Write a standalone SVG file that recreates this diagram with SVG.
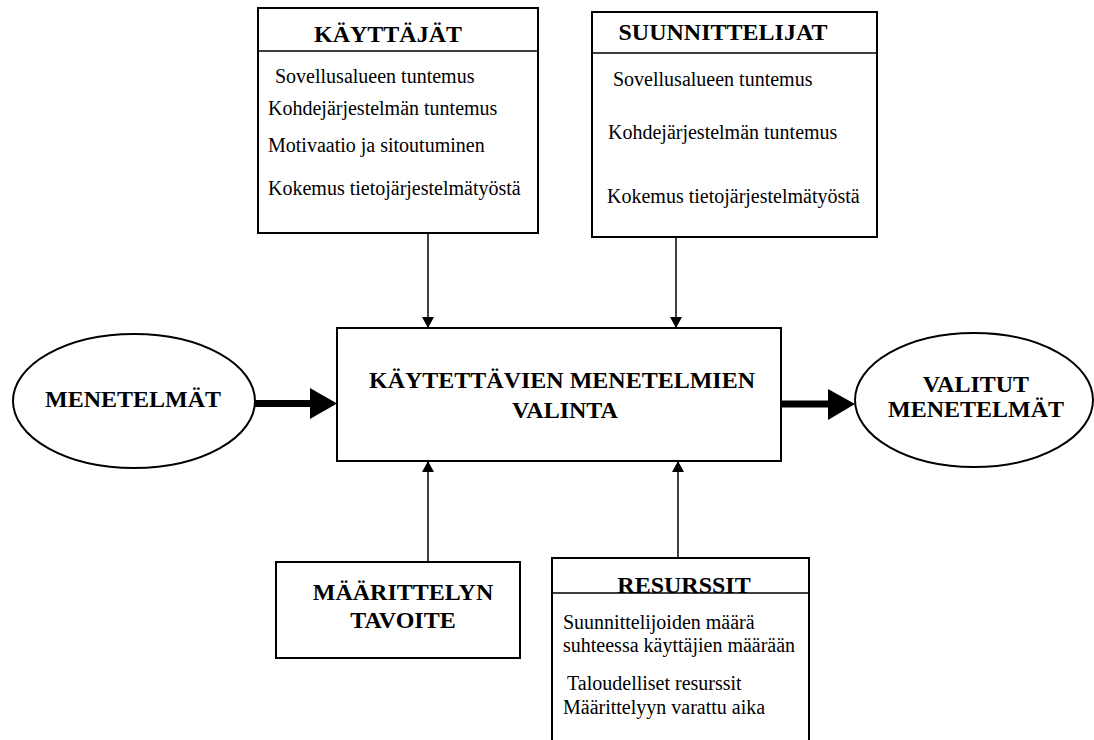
<svg xmlns="http://www.w3.org/2000/svg" width="1094" height="740" viewBox="0 0 1094 740">
  <style>
    .box { fill: #fff; stroke: #000; stroke-width: 2; }
    .rule { stroke: #000; stroke-width: 1.5; }
    .head { font-family: 'Liberation Serif', 'Times New Roman', serif; font-weight: bold; font-size: 24px; fill: #000; }
    .body { font-family: 'Liberation Serif', 'Times New Roman', serif; font-weight: normal; font-style: normal; font-size: 20px; fill: #000; }
    .link { stroke: #000; stroke-width: 1.5; fill: none; marker-end: url(#tip); }
    .thick { stroke: #000; stroke-width: 7; fill: none; }
  </style>
  <defs>
    <marker id="tip" markerUnits="userSpaceOnUse" markerWidth="12" markerHeight="12" refX="11" refY="6" orient="auto">
      <path d="M0,0 L11,6 L0,12 z" fill="#000"/>
    </marker>
  </defs>
  <rect width="1094" height="740" fill="#fff"/>

  <!-- connectors -->
  <g id="connectors">
    <line class="link" x1="428" y1="233" x2="428" y2="328"/>
    <line class="link" x1="676" y1="237" x2="676" y2="328"/>
    <line class="link" x1="428" y1="562" x2="428" y2="461"/>
    <line class="link" x1="678" y1="558" x2="678" y2="461"/>
    <line class="thick" x1="255" y1="403.5" x2="312" y2="403.5"/>
    <polygon points="310,388 337,403.5 310,419" fill="#000"/>
    <line class="thick" x1="781" y1="404" x2="830" y2="404"/>
    <polygon points="828,389 855,404 828,420" fill="#000"/>
  </g>

  <!-- users -->
  <g id="kayttajat">
    <rect class="box" x="258" y="8" width="280" height="225"/>
    <line class="rule" x1="258" y1="51" x2="538" y2="51"/>
    <text class="head" x="388" y="42" text-anchor="middle">KÄYTTÄJÄT</text>
    <text class="body" font-family="Liberation Serif" x="275" y="83">Sovellusalueen tuntemus</text>
    <text class="body" font-family="Liberation Serif" x="268" y="115">Kohdejärjestelmän tuntemus</text>
    <text class="body" font-family="Liberation Serif" x="268" y="152">Motivaatio ja sitoutuminen</text>
    <text class="body" font-family="Liberation Serif" x="268" y="195">Kokemus tietojärjestelmätyöstä</text>
  </g>

  <!-- designers -->
  <g id="suunnittelijat">
    <rect class="box" x="592" y="12" width="285" height="225"/>
    <line class="rule" x1="592" y1="53" x2="877" y2="53"/>
    <text class="head" x="723" y="40" text-anchor="middle">SUUNNITTELIJAT</text>
    <text class="body" x="613" y="86">Sovellusalueen tuntemus</text>
    <text class="body" x="608" y="139">Kohdejärjestelmän tuntemus</text>
    <text class="body" x="607" y="203">Kokemus tietojärjestelmätyöstä</text>
  </g>

  <!-- methods in -->
  <g id="menetelmat">
    <ellipse class="box" cx="134" cy="401" rx="121" ry="67"/>
    <text class="head" x="133" y="407" text-anchor="middle">MENETELMÄT</text>
  </g>

  <!-- selection -->
  <g id="valinta">
    <rect class="box" x="337" y="328" width="444" height="133"/>
    <text class="head" x="562" y="388" text-anchor="middle">KÄYTETTÄVIEN MENETELMIEN</text>
    <text class="head" x="565" y="418" text-anchor="middle">VALINTA</text>
  </g>

  <!-- methods out -->
  <g id="valitut">
    <ellipse class="box" cx="974" cy="400" rx="119" ry="67"/>
    <text class="head" x="976" y="392" text-anchor="middle">VALITUT</text>
    <text class="head" x="976" y="417" text-anchor="middle">MENETELMÄT</text>
  </g>

  <!-- goal -->
  <g id="tavoite">
    <rect class="box" x="276" y="562" width="244" height="96"/>
    <text class="head" x="403" y="600" text-anchor="middle">MÄÄRITTELYN</text>
    <text class="head" x="403" y="628" text-anchor="middle">TAVOITE</text>
  </g>

  <!-- resources -->
  <g id="resurssit">
    <rect class="box" x="552" y="558" width="257" height="200"/>
    <text class="head" x="684" y="593" text-anchor="middle">RESURSSIT</text>
    <line class="rule" x1="552" y1="593" x2="809" y2="593"/>
    <text class="body" x="563" y="629">Suunnittelijoiden määrä</text>
    <text class="body" x="563" y="652">suhteessa käyttäjien määrään</text>
    <text class="body" x="567" y="690">Taloudelliset resurssit</text>
    <text class="body" x="563" y="714">Määrittelyyn varattu aika</text>
  </g>
</svg>
